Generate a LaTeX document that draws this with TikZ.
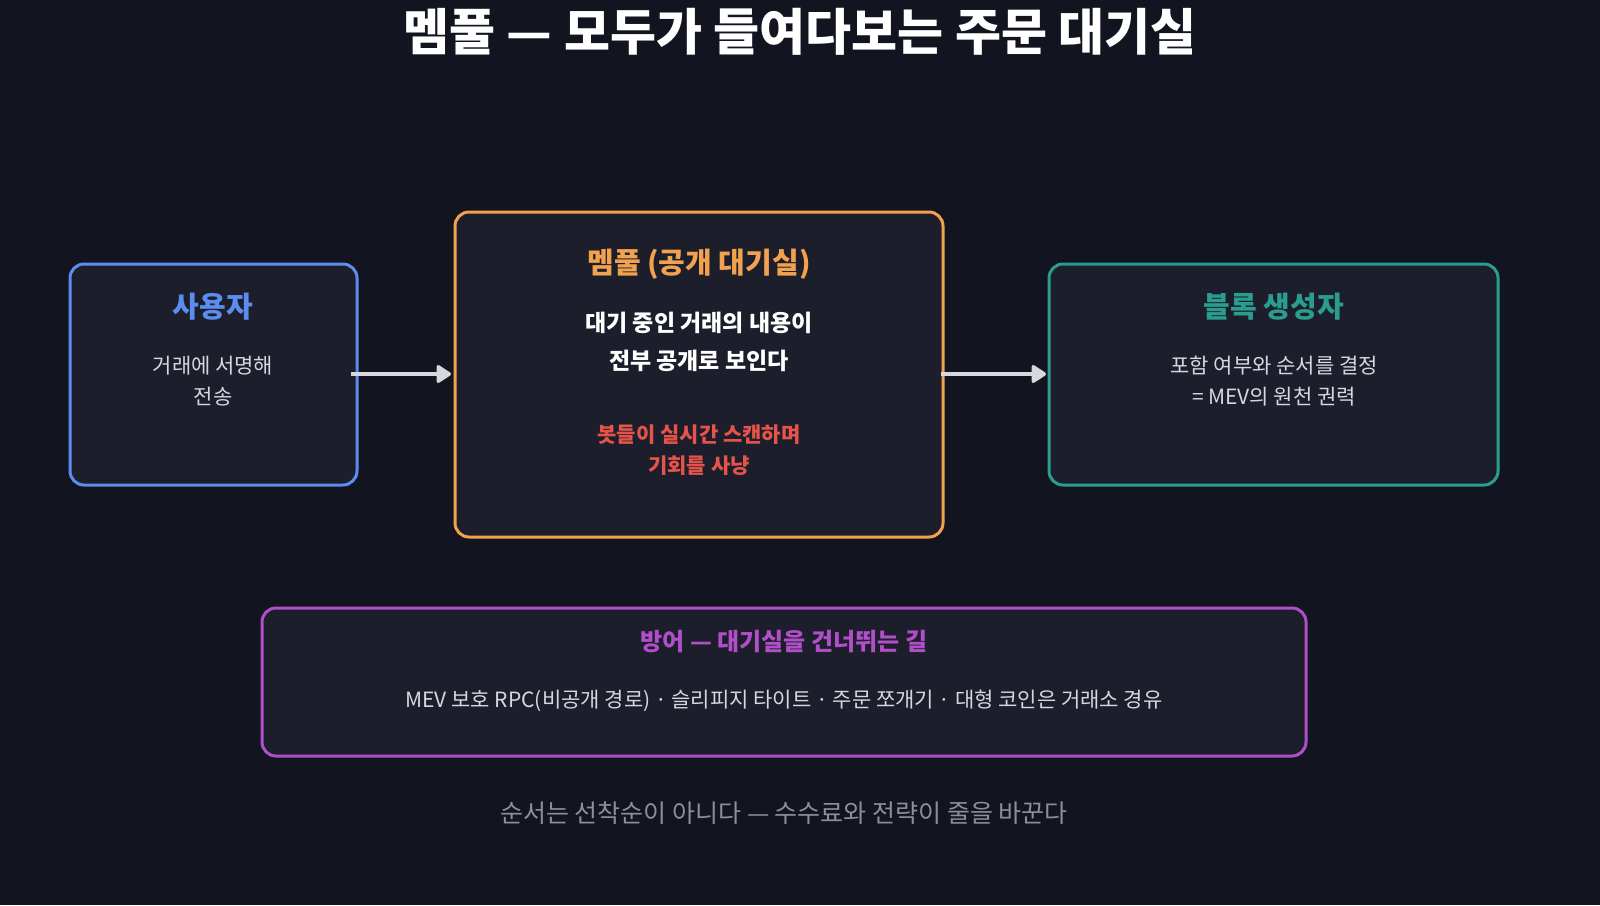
\documentclass[tikz,border=0pt]{standalone}
\usepackage{fontspec}
\setmainfont{Noto Sans CJK KR}
\usetikzlibrary{arrows.meta}
\definecolor{bg}{HTML}{12151F}
\definecolor{boxf}{HTML}{1C1E2B}
\definecolor{cblue}{HTML}{5B8DEF}
\definecolor{corange}{HTML}{F2A24E}
\definecolor{cteal}{HTML}{2A9D8F}
\definecolor{cpurple}{HTML}{B04FC8}
\definecolor{cred}{HTML}{E5534B}
\definecolor{cgray}{HTML}{8A8F9C}
\definecolor{ctext}{HTML}{D6D8DE}
\tikzset{
 panel/.style={draw=#1, line width=3pt, rounded corners=14pt, fill=boxf},
 ttl/.style={font=\fontsize{29}{34}\selectfont\bfseries, text=#1},
 body/.style={font=\fontsize{21}{31}\selectfont, text=ctext, align=center},
 conn/.style={draw=ctext, line width=3.5pt, -{Triangle[length=16pt,width=20pt,round]}}
}
\begin{document}
\begin{tikzpicture}[x=1pt,y=-1pt]
\fill[bg] (0,0) rectangle (1600,905);
\useasboundingbox (0,0) rectangle (1600,905);
\node[font=\fontsize{50}{56}\selectfont\bfseries, text=white] (title) at (800,32) {멤풀 — 모두가 들여다보는 주문 대기실};
\draw[panel=cblue] (70,264) rectangle (357,485);
\coordinate (u) at (357,374);
\draw[panel=corange] (455,212) rectangle (943,537);
\coordinate (mL) at (455,374);\coordinate (mR) at (943,374);
\draw[panel=cteal] (1049,264) rectangle (1498,485);
\coordinate (b) at (1049,374);
\draw[panel=cpurple] (262,608) rectangle (1306,756);
\node[ttl=cblue] (t1) at (213,307) {사용자};
\node[body] (b1) at (213,381) {거래에 서명해\\전송};
\node[ttl=corange] (t2) at (699,264) {멤풀 (공개 대기실)};
\node[body,text=white,font=\fontsize{23}{38}\selectfont\bfseries] (b2) at (699,342) {대기 중인 거래의 내용이\\전부 공개로 보인다};
\node[body,text=cred,font=\fontsize{21}{31}\selectfont\bfseries] (r2) at (699,450) {봇들이 실시간 스캔하며\\기회를 사냥};
\node[ttl=cteal] (t3) at (1274,307) {블록 생성자};
\node[body] (b3) at (1274,381) {포함 여부와 순서를 결정\\= MEV의 원천 권력};
\node[ttl=cpurple,font=\fontsize{24}{28}\selectfont\bfseries] (t4) at (784,642) {방어 — 대기실을 건너뛰는 길};
\node[body] (b4) at (784,701) {MEV 보호 RPC(비공개 경로) · 슬리피지 타이트 · 주문 쪼개기 · 대형 코인은 거래소 경유};
\node[font=\fontsize{25}{30}\selectfont, text=cgray] (foot) at (784,813) {순서는 선착순이 아니다 — 수수료와 전략이 줄을 바꾼다};
\draw[conn] ([xshift=-6pt]u) -- ([xshift=-4pt]mL);
\draw[conn] ([xshift=-2pt]mR) -- ([xshift=-3pt]b);
\end{tikzpicture}
\end{document}
